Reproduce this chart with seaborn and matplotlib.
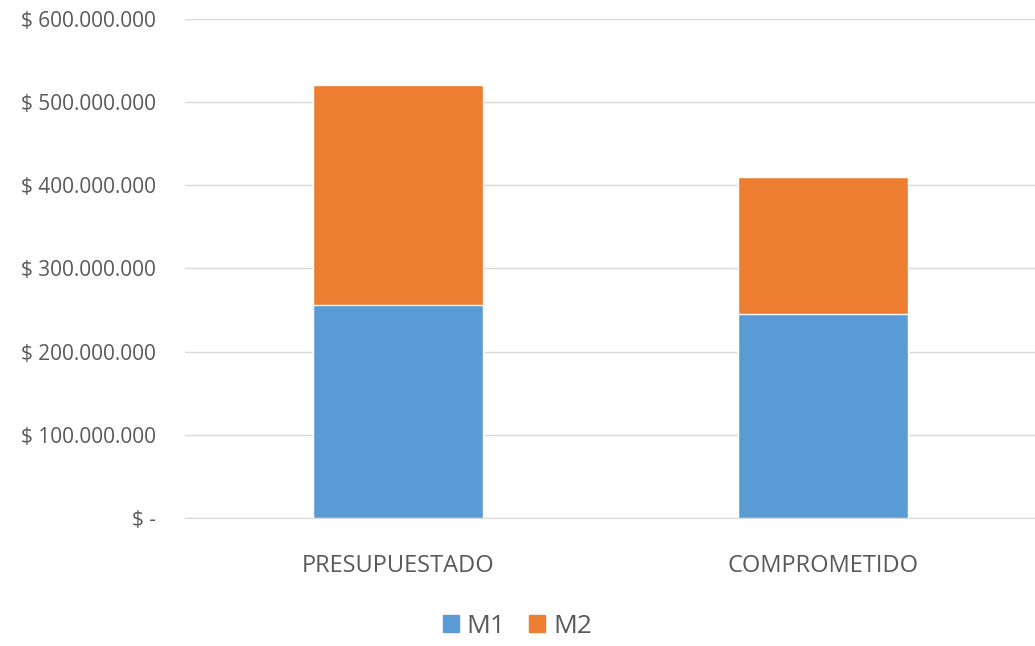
import pandas as pd
import numpy as np
import matplotlib
matplotlib.use("Agg")
import matplotlib.pyplot as plt
import seaborn as sns
from matplotlib.ticker import FuncFormatter
from matplotlib.patches import Patch

categorias = ["PRESUPUESTADO", "COMPROMETIDO"]
m1 = [256_000_000, 245_000_000]
m2 = [264_000_000, 165_000_000]

df = pd.DataFrame({"cat": categorias, "M1": m1, "M2": m2})
df["total"] = df["M1"] + df["M2"]

sns.set_style("white")
plt.rcParams["font.family"] = ["Open Sans", "DejaVu Sans"]

azul = "#5B9BD5"
naranja = "#ED7D31"
gris = "#595959"

fig = plt.figure(figsize=(10.35, 6.46), dpi=100)
ax = fig.add_axes([0.179, 0.198, 0.821, 0.773])

# la barra total va en naranja y encima M1 en azul
sns.barplot(data=df, x="cat", y="total", color=naranja, width=0.4,
            saturation=1, ax=ax, zorder=3)
sns.barplot(data=df, x="cat", y="M1", color=azul, width=0.4,
            saturation=1, ax=ax, zorder=3)

ax.set_ylim(0, 600_000_000)
ax.set_yticks(np.arange(0, 600_000_001, 100_000_000))
ax.set_xlim(-0.5, 1.5)

def fmt(v, pos):
    if v == 0:
        return "$ -"
    return "$ " + f"{int(v):,}".replace(",", ".")

ax.yaxis.set_major_formatter(FuncFormatter(fmt))
ax.grid(axis="y", color="#D9D9D9", linewidth=1, zorder=0)
ax.set_axisbelow(True)
for s in ["top", "right", "left"]:
    ax.spines[s].set_visible(False)
ax.spines["bottom"].set_color("#D9D9D9")
ax.set_xlabel("")
ax.set_ylabel("")
ax.tick_params(axis="y", length=0, pad=21, labelsize=15, labelcolor=gris)
ax.tick_params(axis="x", length=0, pad=26, labelsize=17, labelcolor=gris)

handles = [Patch(color=azul, label="M1"), Patch(color=naranja, label="M2")]
fig.legend(handles=handles, loc="center", bbox_to_anchor=(0.5, 0.03),
           ncol=2, frameon=False, fontsize=19, labelcolor=gris,
           handlelength=0.6, handleheight=0.6, handletextpad=0.3,
           columnspacing=0.9, borderpad=0.2)

fig.savefig("out.png", dpi=100)
